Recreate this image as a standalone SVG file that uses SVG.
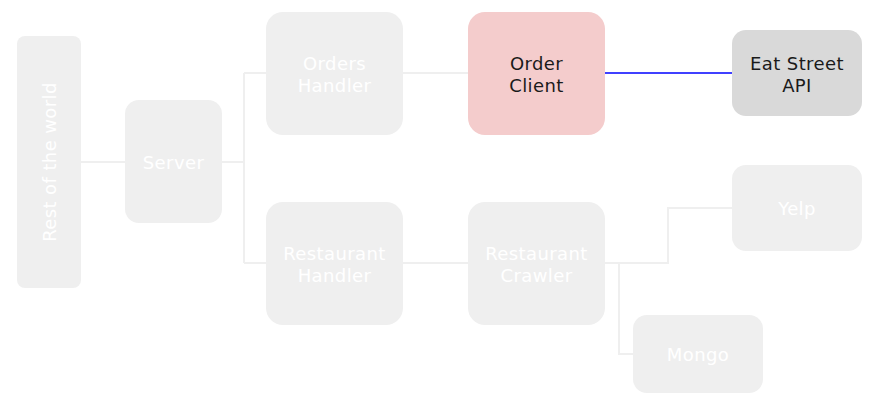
<svg xmlns="http://www.w3.org/2000/svg" width="885" height="415" viewBox="0 0 885 415">
<style>
.n{fill:#efefef}
.t{font-family:"DejaVu Sans",sans-serif;font-size:18px;letter-spacing:0.4px;fill:#ffffff;text-anchor:middle}
.d{fill:#1a1a1a}
.c{fill:none;stroke:#efefef;stroke-width:2}
</style>
<rect width="885" height="415" fill="#ffffff"/>
<g id="connectors">
<path class="c" d="M81 162H125"/>
<path class="c" d="M222 162H244M244 73V263M244 73H266M244 263H266"/>
<path class="c" d="M403 73H468"/>
<path class="c" d="M403 263H468"/>
<path class="c" d="M605 263H668V208H732"/>
<path class="c" d="M619 263V354H633"/>
<path d="M605 73H732" fill="none" stroke="#0000ff" stroke-width="1.6"/>
</g>
<g id="rest"><rect class="n" x="17" y="36" width="64" height="252" rx="8"/><text class="t" transform="translate(55.5 162) rotate(-90)">Rest of the world</text></g>
<g id="server"><rect class="n" x="125" y="100" width="97" height="123" rx="14"/><text class="t" x="173.5" y="168.5">Server</text></g>
<g id="orders-handler"><rect class="n" x="266" y="12" width="137" height="123" rx="17"/><text class="t" x="334.5" y="69.5">Orders</text><text class="t" x="334.5" y="91.5">Handler</text></g>
<g id="order-client"><rect x="468" y="12" width="137" height="123" rx="17" fill="#f4cccc"/><text class="t d" x="536.5" y="69.5">Order</text><text class="t d" x="536.5" y="91.5">Client</text></g>
<g id="eat-street"><rect x="732" y="30" width="130" height="86" rx="14" fill="#d9d9d9"/><text class="t d" x="797" y="69.5">Eat Street</text><text class="t d" x="797" y="91.5">API</text></g>
<g id="restaurant-handler"><rect class="n" x="266" y="202" width="137" height="123" rx="17"/><text class="t" x="334.5" y="259.5">Restaurant</text><text class="t" x="334.5" y="281.5">Handler</text></g>
<g id="restaurant-crawler"><rect class="n" x="468" y="202" width="137" height="123" rx="17"/><text class="t" x="536.5" y="259.5">Restaurant</text><text class="t" x="536.5" y="281.5">Crawler</text></g>
<g id="yelp"><rect class="n" x="732" y="165" width="130" height="86" rx="14"/><text class="t" x="797" y="214.5">Yelp</text></g>
<g id="mongo"><rect class="n" x="633" y="315" width="130" height="78" rx="14"/><text class="t" x="698" y="360.5">Mongo</text></g>
</svg>
